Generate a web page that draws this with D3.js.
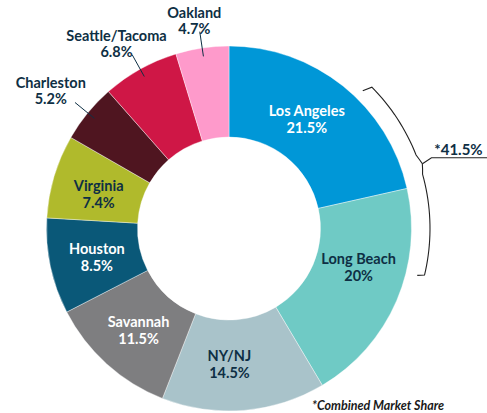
<!DOCTYPE html>
<html>
<head>
<meta charset="utf-8">
<script src="https://cdn.jsdelivr.net/npm/d3@7"></script>
<style>
  body { margin: 0; background: #fff; }
  svg text { font-family: Lato, "Open Sans", sans-serif; font-weight: 700; }
</style>
</head>
<body>
<svg id="chart" width="487" height="413"></svg>
<script>
// port share, clockwise from 12 o'clock
const ports  = ['Los Angeles', 'Long Beach', 'NY/NJ', 'Savannah', 'Houston', 'Virginia', 'Charleston', 'Seattle/Tacoma', 'Oakland'];
const shares = [21.5, 20, 14.5, 11.5, 8.5, 7.4, 5.2, 6.8, 4.7];
const shareLabels = ['21.5%', '20%', '14.5%', '11.5%', '8.5%', '7.4%', '5.2%', '6.8%', '4.7%'];
const outside = ['Charleston', 'Seattle/Tacoma', 'Oakland'];
const combinedLabel = '*41.5%';
const note = '*Combined Market Share';

const colors = ['#0097d7', '#6fcac5', '#a9c3ca', '#7e7e80', '#0a5878', '#b0ba2c', '#4f1520', '#cf1746', '#fe9acb'];
const textColor = ['#fff', '#0e2f44', '#0e2f44', '#fff', '#fff', '#0e2f44', '#0e2f44', '#0e2f44', '#0e2f44'];

// small hand nudges of the inside label angle (degrees), like the original layout
const labelTurn = {'Los Angeles': -3.5, 'Long Beach': -7, 'NY/NJ': 4.5, 'Virginia': -1.5};

const
  cx = 229,
  cy = 228.5,
  rOuter = 182.5,
  rInner = 91.5,
  fs = 14.5,
  svg = d3.select('#chart'),
  g = svg.append('g').attr('transform', `translate(${cx},${cy})`),
  data = ports.map((p, i) => ({port: p, value: shares[i], label: shareLabels[i], i: i})),
  pie = d3.pie().sort(null).value(d => d.value),
  arc = d3.arc().innerRadius(rInner).outerRadius(rOuter),
  arcs = pie(data),
  polar = (r, a) => [r * Math.sin(a), -r * Math.cos(a)]
  ;

g.selectAll('path.slice')
  .data(arcs)
  .enter()
  .append('path')
  .attr('class', 'slice')
  .attr('d', arc)
  .attr('fill', d => colors[d.data.i])
  .attr('stroke', '#fff')
  .attr('stroke-width', 0.4)
;

// inside labels
const inner = g.selectAll('text.inside')
  .data(arcs.filter(d => !outside.includes(d.data.port)))
  .enter()
  .append('text')
  .attr('class', 'inside')
  .attr('text-anchor', 'middle')
  .attr('font-size', fs)
  .attr('fill', d => textColor[d.data.i])
  .attr('transform', d => {
    let
      a = (d.startAngle + d.endAngle) / 2 + (labelTurn[d.data.port] || 0) * Math.PI / 180,
      [x, y] = polar(135, a);
    return `translate(${x},${y})`;
  })
;
inner.append('tspan').attr('x', 0).attr('y', -2).text(d => d.data.port);
inner.append('tspan').attr('x', 0).attr('y', 15).text(d => d.data.label);

// outside labels with leader lines
const outer = arcs.filter(d => outside.includes(d.data.port));
outer.forEach(d => {
  let
    a = (d.startAngle + d.endAngle) / 2,
    p0 = polar(174, a),
    p1 = polar(199, a),
    t = g.append('text')
      .attr('text-anchor', 'middle')
      .attr('font-size', fs)
      .attr('fill', textColor[d.data.i])
    ;
  g.append('line')
    .attr('x1', p0[0]).attr('y1', p0[1])
    .attr('x2', p1[0]).attr('y2', p1[1])
    .attr('stroke', '#0e2f44')
    .attr('stroke-width', 1);
  let tx = p1[0] + 30 * Math.sin(a) - 1;
  t.append('tspan').attr('x', tx).attr('y', p1[1] - 14).text(d.data.port);
  t.append('tspan').attr('x', tx).attr('y', p1[1] + 2).text(d.data.label);
});

// bracket for combined LA + Long Beach
const
  rb = 201,
  a0 = 45.3 * Math.PI / 180,
  a1 = 103.4 * Math.PI / 180,
  am = 71.5 * Math.PI / 180,
  steps = d3.range(0, 41).map(k => a0 + (a1 - a0) * k / 40),
  bracket = d3.line()
    .x(d => d[0]).y(d => d[1])
    .curve(d3.curveLinear)
  ;
let pts = [polar(rb - 9, a0 - 0.02)];
steps.forEach(a => {
  let bump = Math.max(0, 1 - Math.abs(a - am) / 0.05) * 3;
  pts.push(polar(rb + bump, a));
});
pts.push(polar(rb - 7, a1 + 0.01));
g.append('path')
  .attr('d', bracket(pts))
  .attr('fill', 'none')
  .attr('stroke', '#222')
  .attr('stroke-width', 1.1);

let tip = polar(rb + 3, am);
g.append('path')
  .attr('d', bracket([tip, [tip[0] + 9, tip[1] - 6], [258, tip[1] - 6]]))
  .attr('fill', 'none')
  .attr('stroke', '#222')
  .attr('stroke-width', 1.1);
g.append('text')
  .attr('x', 229.5)
  .attr('y', tip[1] - 9)
  .attr('text-anchor', 'middle')
  .attr('font-size', 15)
  .attr('fill', '#0e2f44')
  .text(combinedLabel);

svg.append('text')
  .attr('x', 378)
  .attr('y', 410)
  .attr('text-anchor', 'middle')
  .attr('font-size', 12.5)
  .attr('font-style', 'italic')
  .attr('fill', '#1a1a1a')
  .text(note);
</script>
</body>
</html>
